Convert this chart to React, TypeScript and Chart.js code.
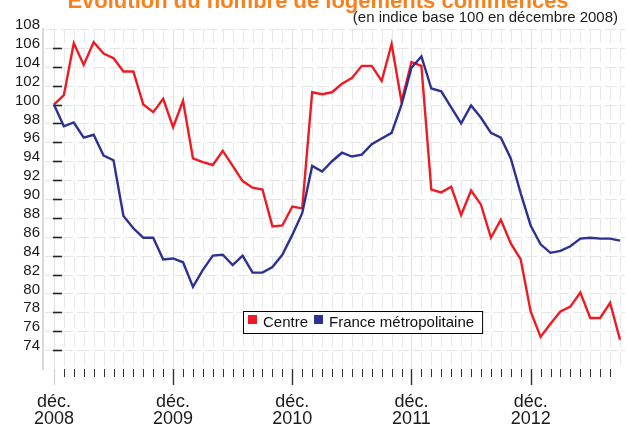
import React, { useEffect, useRef } from "react";
import { Chart, registerables } from "chart.js";

Chart.register(...registerables);

const titleText = "Évolution du nombre de logements commencés";
const subtitleText = "(en indice base 100 en décembre 2008)";

const seriesNames = ["Centre", "France métropolitaine"];
const seriesColors = ["#ed1c24", "#2e3192"];

// Monthly index values, déc. 2008 .. sept. 2013
const centre = [
  100, 101.0, 106.5, 104.2, 106.6, 105.4, 104.9, 103.5, 103.5, 100.0, 99.2, 100.6,
  97.6, 100.4, 94.3, 93.9, 93.6, 95.1, 93.5, 91.9, 91.2, 91.0, 87.1, 87.2,
  89.2, 89.0, 101.3, 101.1, 101.3, 102.2, 102.8, 104.1, 104.1, 102.5, 106.4, 100.3,
  104.5, 104.1, 91.0, 90.7, 91.3, 88.3, 90.9, 89.4, 85.9, 87.8, 85.3, 83.6,
  78.1, 75.4, 76.8, 78.1, 78.6, 80.1, 77.4, 77.4, 79.0, 75.1,
];
const france = [
  100, 97.7, 98.1, 96.5, 96.8, 94.6, 94.1, 88.2, 86.9, 85.9, 85.9, 83.6,
  83.7, 83.3, 80.7, 82.5, 84.0, 84.1, 83.0, 84.0, 82.2, 82.2, 82.8, 84.1,
  86.2, 88.5, 93.5, 92.9, 94.0, 94.9, 94.5, 94.7, 95.8, 96.4, 97.0, 100.0,
  103.9, 105.1, 101.7, 101.4, 99.7, 98.0, 99.9, 98.6, 97.0, 96.5, 94.3, 90.6,
  87.2, 85.2, 84.3, 84.5, 85.0, 85.8, 85.9, 85.8, 85.8, 85.6,
];

const monthNames = ["janv.", "févr.", "mars", "avr.", "mai", "juin", "juil.", "août", "sept.", "oct.", "nov.", "déc."];
const categories = centre.map((_, k) => {
  const m = (11 + k) % 12;
  const yr = 2008 + Math.floor((11 + k) / 12);
  return `${monthNames[m]} ${yr}`;
});

const yTicks = [74, 76, 78, 80, 82, 84, 86, 88, 90, 92, 94, 96, 98, 100, 102, 104, 106, 108];
const yMin = 72;
const yMax = 108;

const FONT = "'Liberation Sans', Arial, Helvetica, sans-serif";

const decorPlugin = {
  id: "decor",
  beforeDatasetsDraw(chart: any) {
    const { ctx, chartArea: a, scales } = chart;
    const x = scales.x;
    const y = scales.y;
    ctx.save();
    ctx.lineWidth = 1;
    // horizontal grid
    ctx.strokeStyle = "#e6e6e6";
    ctx.setLineDash([12, 4]);
    yTicks.forEach((v) => {
      const py = Math.round(y.getPixelForValue(v)) + 0.5;
      ctx.beginPath();
      ctx.moveTo(a.left + 2, py);
      ctx.lineTo(a.right, py);
      ctx.stroke();
    });
    // vertical grid
    categories.forEach((lbl, i) => {
      const px = Math.round(x.getPixelForValue(i)) + 0.5;
      if (lbl.startsWith("déc.")) {
        ctx.setLineDash([]);
        ctx.strokeStyle = "#e2e2e2";
      } else {
        ctx.setLineDash([14, 5]);
        ctx.strokeStyle = "#e8e8e8";
      }
      ctx.beginPath();
      ctx.moveTo(px, a.top);
      ctx.lineTo(px, a.bottom);
      ctx.stroke();
    });
    ctx.setLineDash([]);
    // y tick dashes at the first data point
    const x0 = x.getPixelForValue(0);
    ctx.strokeStyle = "#222";
    ctx.lineWidth = 1.6;
    yTicks.forEach((v) => {
      if (v >= 108) return;
      const py = Math.round(y.getPixelForValue(v)) + 0.5;
      ctx.beginPath();
      ctx.moveTo(x0 - 1, py);
      ctx.lineTo(x0 + 8, py);
      ctx.stroke();
    });
    // x tick marks
    categories.forEach((lbl, i) => {
      const px = Math.round(x.getPixelForValue(i)) + 0.5;
      if (i === 0) {
        ctx.strokeStyle = "#d0d0d0";
        ctx.lineWidth = 1.2;
        ctx.beginPath();
        ctx.moveTo(px, a.bottom);
        ctx.lineTo(px, a.bottom + 16);
        ctx.stroke();
        return;
      }
      if (i === categories.length - 1) return;
      const major = lbl.startsWith("déc.");
      ctx.strokeStyle = "#333";
      ctx.lineWidth = major ? 1.4 : 1;
      ctx.beginPath();
      ctx.moveTo(px, a.bottom);
      ctx.lineTo(px, a.bottom + (major ? 16 : 8));
      ctx.stroke();
    });
    ctx.restore();
  },
  afterDraw(chart: any) {
    const { ctx } = chart;
    ctx.save();
    // title (mostly cut off at top)
    ctx.font = `bold 22px ${FONT}`;
    ctx.fillStyle = "#f5821f";
    ctx.textAlign = "center";
    ctx.textBaseline = "alphabetic";
    ctx.fillText(titleText, 318, 8);
    // subtitle
    ctx.font = `15px ${FONT}`;
    ctx.fillStyle = "#1a1a1a";
    ctx.textAlign = "right";
    ctx.fillText(subtitleText, 618, 22);
    // legend
    ctx.font = `15px ${FONT}`;
    ctx.textAlign = "left";
    const sq = 9;
    const gap = 6;
    const left = 243;
    const top = 311;
    const h = 22;
    let w = 5;
    chart.data.datasets.forEach((ds: any) => {
      w += sq + gap + ctx.measureText(ds.label).width + gap;
    });
    w += 2;
    ctx.fillStyle = "#ffffff";
    ctx.fillRect(left, top, w, h);
    ctx.strokeStyle = "#000";
    ctx.lineWidth = 1;
    ctx.strokeRect(left + 0.5, top + 0.5, w, h);
    let cx = left + 5;
    chart.data.datasets.forEach((ds: any) => {
      ctx.fillStyle = ds.borderColor;
      ctx.fillRect(cx, top + 4, sq, sq);
      cx += sq + gap;
      ctx.fillStyle = "#111";
      ctx.fillText(ds.label, cx, top + 16);
      cx += ctx.measureText(ds.label).width + gap;
    });
    ctx.restore();
  },
};

export default function App() {
  const ref = useRef<HTMLCanvasElement>(null);
  useEffect(() => {
    if (!ref.current) return;
    const chart = new Chart(ref.current, {
      type: "line",
      data: {
        datasets: [
          {
            label: seriesNames[0],
            data: centre.map((v, i) => ({ x: i, y: v })),
            borderColor: seriesColors[0],
            backgroundColor: seriesColors[0],
            borderWidth: 2.4,
            pointRadius: 0,
            tension: 0,
            order: 1,
          },
          {
            label: seriesNames[1],
            data: france.map((v, i) => ({ x: i, y: v })),
            borderColor: seriesColors[1],
            backgroundColor: seriesColors[1],
            borderWidth: 2.4,
            pointRadius: 0,
            tension: 0,
            order: 0,
          },
        ],
      },
      options: {
        animation: false,
        responsive: false,
        maintainAspectRatio: false,
        layout: { padding: { top: 29, right: 5, left: 0, bottom: 0 } },
        plugins: {
          legend: { display: false },
          tooltip: { enabled: false },
          title: { display: false },
        },
        scales: {
          x: {
            type: "linear",
            min: -1.1,
            max: 57.5,
            afterBuildTicks: (s: any) => {
              s.ticks = categories.map((_, i) => ({ value: i }));
            },
            afterFit: (s: any) => {
              s.height = 57;
              s.paddingLeft = 0;
              s.paddingRight = 0;
              s.paddingTop = 0;
              s.paddingBottom = 0;
            },
            grid: { display: false, drawTicks: false },
            border: { display: false },
            ticks: {
              autoSkip: false,
              maxRotation: 0,
              minRotation: 0,
              padding: 25,
              color: "#1a1a1a",
              font: { family: FONT, size: 18, lineHeight: 0.93 },
              callback: (v: any) => {
                const lbl = categories[Math.round(v)] || "";
                return lbl.startsWith("déc.") ? lbl.split(" ") : "";
              },
            },
          },
          y: {
            type: "linear",
            min: yMin,
            max: yMax,
            afterBuildTicks: (s: any) => {
              s.ticks = yTicks.map((v) => ({ value: v }));
            },
            afterFit: (s: any) => {
              s.width = 43;
              s.paddingTop = 0;
              s.paddingBottom = 0;
              s.paddingLeft = 0;
              s.paddingRight = 0;
            },
            grid: { display: false, drawTicks: false },
            border: { display: true, color: "#dadada", width: 2 },
            ticks: {
              autoSkip: false,
              padding: 3,
              labelOffset: -4,
              color: "#1a1a1a",
              font: { family: FONT, size: 15 },
              callback: (v: any) => String(v),
            },
          },
        },
      },
      plugins: [decorPlugin],
    });
    return () => chart.destroy();
  }, []);
  return (
    <div style={{ position: "fixed", left: 0, top: 0, width: 630, height: 426, background: "#fff" }}>
      <canvas ref={ref} width={630} height={426} style={{ width: 630, height: 426 }} />
    </div>
  );
}
